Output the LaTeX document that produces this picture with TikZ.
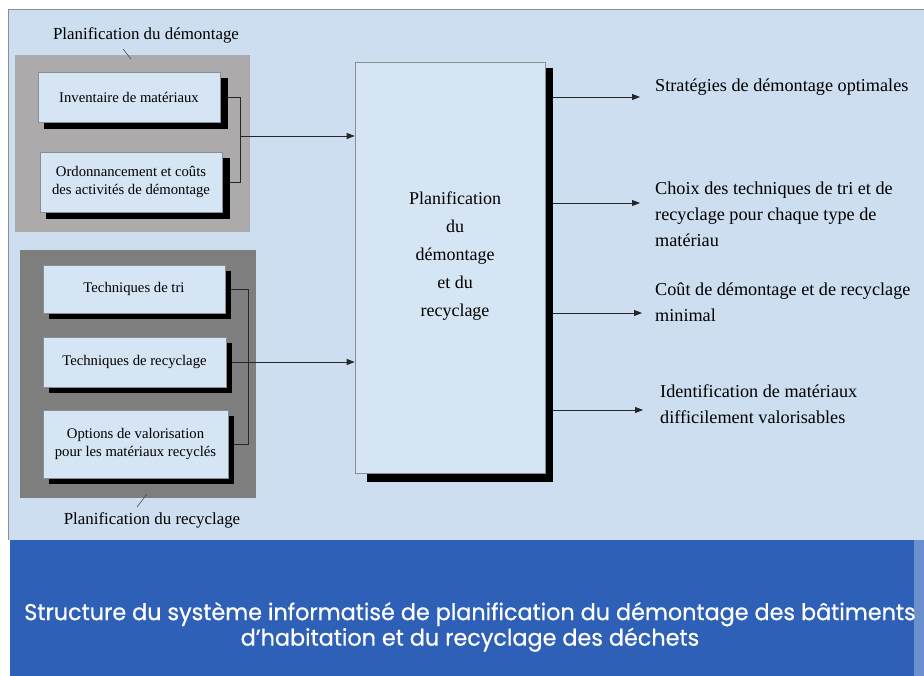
\documentclass[tikz,border=0pt]{standalone}
\usepackage{fontspec}
\setmainfont{Liberation Serif}
\newfontfamily\capfont[FakeStretch=0.97,FakeBold=0.6]{Poppins}
\usetikzlibrary{arrows.meta}
\definecolor{pagebg}{HTML}{CCDEF0}
\definecolor{boxbg}{HTML}{D5E5F4}
\definecolor{bandbg}{HTML}{2D60B6}
\definecolor{grpA}{HTML}{ADAAAB}
\definecolor{grpB}{HTML}{7E7E7E}
\definecolor{edge}{HTML}{8A8F96}
\tikzset{
  x=1pt, y=-1pt,
  inbox/.style={draw=edge, line width=0.6pt, fill=boxbg, align=center, inner sep=2pt,
    font=\fontsize{14.7}{17.5}\selectfont},
  shadowbox/.style={fill=black, draw=none},
  conn/.style={draw=black!85, line width=0.9pt},
  arr/.style={conn, -{Triangle[length=8pt,width=6pt]}},
  outtxt/.style={anchor=west, align=left, font=\fontsize{18.2}{26}\selectfont, inner sep=0pt},
  grplabel/.style={font=\fontsize{16.9}{20}\selectfont, inner sep=0pt},
}
\begin{document}
\begin{tikzpicture}
\useasboundingbox (0,0) rectangle (924,676);
\fill[white] (0,0) rectangle (924,676);
% page background
\fill[pagebg] (8,9) rectangle (924,540);
\draw[edge, line width=0.8pt] (8,540) -- (8,9) -- (924,9);
% caption band
\fill[bandbg] (10,540) rectangle (924,676);
\fill[bandbg!70!white] (914,540) rectangle (924,676);

% group frames
\fill[grpA] (15,55) rectangle (250,232);
\fill[grpB] (20,250) rectangle (256,498);

% shadows of inner boxes
\fill[shadowbox] (44,78) rectangle (228,129);
\fill[shadowbox] (46,158) rectangle (230,219);
\fill[shadowbox] (49,271) rectangle (231,319);
\fill[shadowbox] (49,343) rectangle (232,393);
\fill[shadowbox] (49,416) rectangle (234,484);

% inner boxes
\node[inbox, minimum width=182pt, minimum height=50pt] (inv) at (129,97) {Inventaire de matériaux};
\node[inbox, minimum width=182pt, minimum height=60pt] (ord) at (131,182) {Ordonnancement et coûts\\des activités de démontage};
\node[inbox, minimum width=182pt, minimum height=48pt] (tri) at (134,289) {Techniques de tri};
\node[inbox, minimum width=183pt, minimum height=50pt] (rec) at (134.5,362) {Techniques de recyclage};
\node[inbox, minimum width=185pt, minimum height=68pt] (opt) at (135.5,444) {Options de valorisation\\pour les matériaux recyclés};

% group labels
\node[grplabel] (lab1) at (146,35) {Planification du démontage};
\node[grplabel] (lab2) at (152,520) {Planification du recyclage};
\draw[black!70, line width=0.6pt] (123,49) -- (131,59);
\draw[black!70, line width=0.6pt] (137,507) -- (147,494);

% central box
\fill[shadowbox] (553,68) rectangle (545,482);
\fill[shadowbox] (367,473) rectangle (553,482);
\node[draw=edge, line width=0.6pt, fill=boxbg, minimum width=190pt, minimum height=411pt] (main) at (450,267.5) {};
\node[align=center, font=\fontsize{18}{28}\selectfont, inner sep=0pt] (maintxt) at (455,256)
  {Planification\\du\\démontage\\et du\\recyclage};

% junctions
\coordinate (j1) at (240,136);
\coordinate (j2) at (248,362);
\draw[conn] ([xshift=7pt]inv.east) -| (j1);
\draw[conn] ([xshift=7pt]ord.east) -| (j1);
\draw[arr] (j1) -- (main.west |- j1);
\draw[conn] ([xshift=6pt]tri.east) -| (j2);
\draw[conn] ([xshift=6pt]opt.east) -| (j2);
\draw[arr] ([xshift=6pt]rec.east) -- (main.west |- j2);

% outputs
\node[outtxt] (o1) at (655,87) {Stratégies de démontage optimales};
\node[outtxt] (o2) at (655,214) {Choix des techniques de tri et de\\recyclage pour chaque type de\\matériau};
\node[outtxt] (o3) at (655,302) {Coût de démontage et de recyclage\\minimal};
\node[outtxt] (o4) at (660,404) {Identification de matériaux\\difficilement valorisables};
\coordinate (a1) at (640,97);
\coordinate (a2) at (640,203);
\coordinate (a3) at (642,313);
\coordinate (a4) at (643,410);
\draw[arr] ([xshift=8pt]main.east |- a1) -- (a1);
\draw[arr] ([xshift=8pt]main.east |- a2) -- (a2);
\draw[arr] ([xshift=8pt]main.east |- a3) -- (a3);
\draw[arr] ([xshift=8pt]main.east |- a4) -- (a4);

% caption
\node[text=white, align=center, font=\capfont\fontsize{23}{25.5}\selectfont, inner sep=0pt] (cap) at (470,627)
  {Structure du système informatisé de planification du démontage des bâtiments\\d’habitation et du recyclage des déchets};
\end{tikzpicture}
\end{document}
